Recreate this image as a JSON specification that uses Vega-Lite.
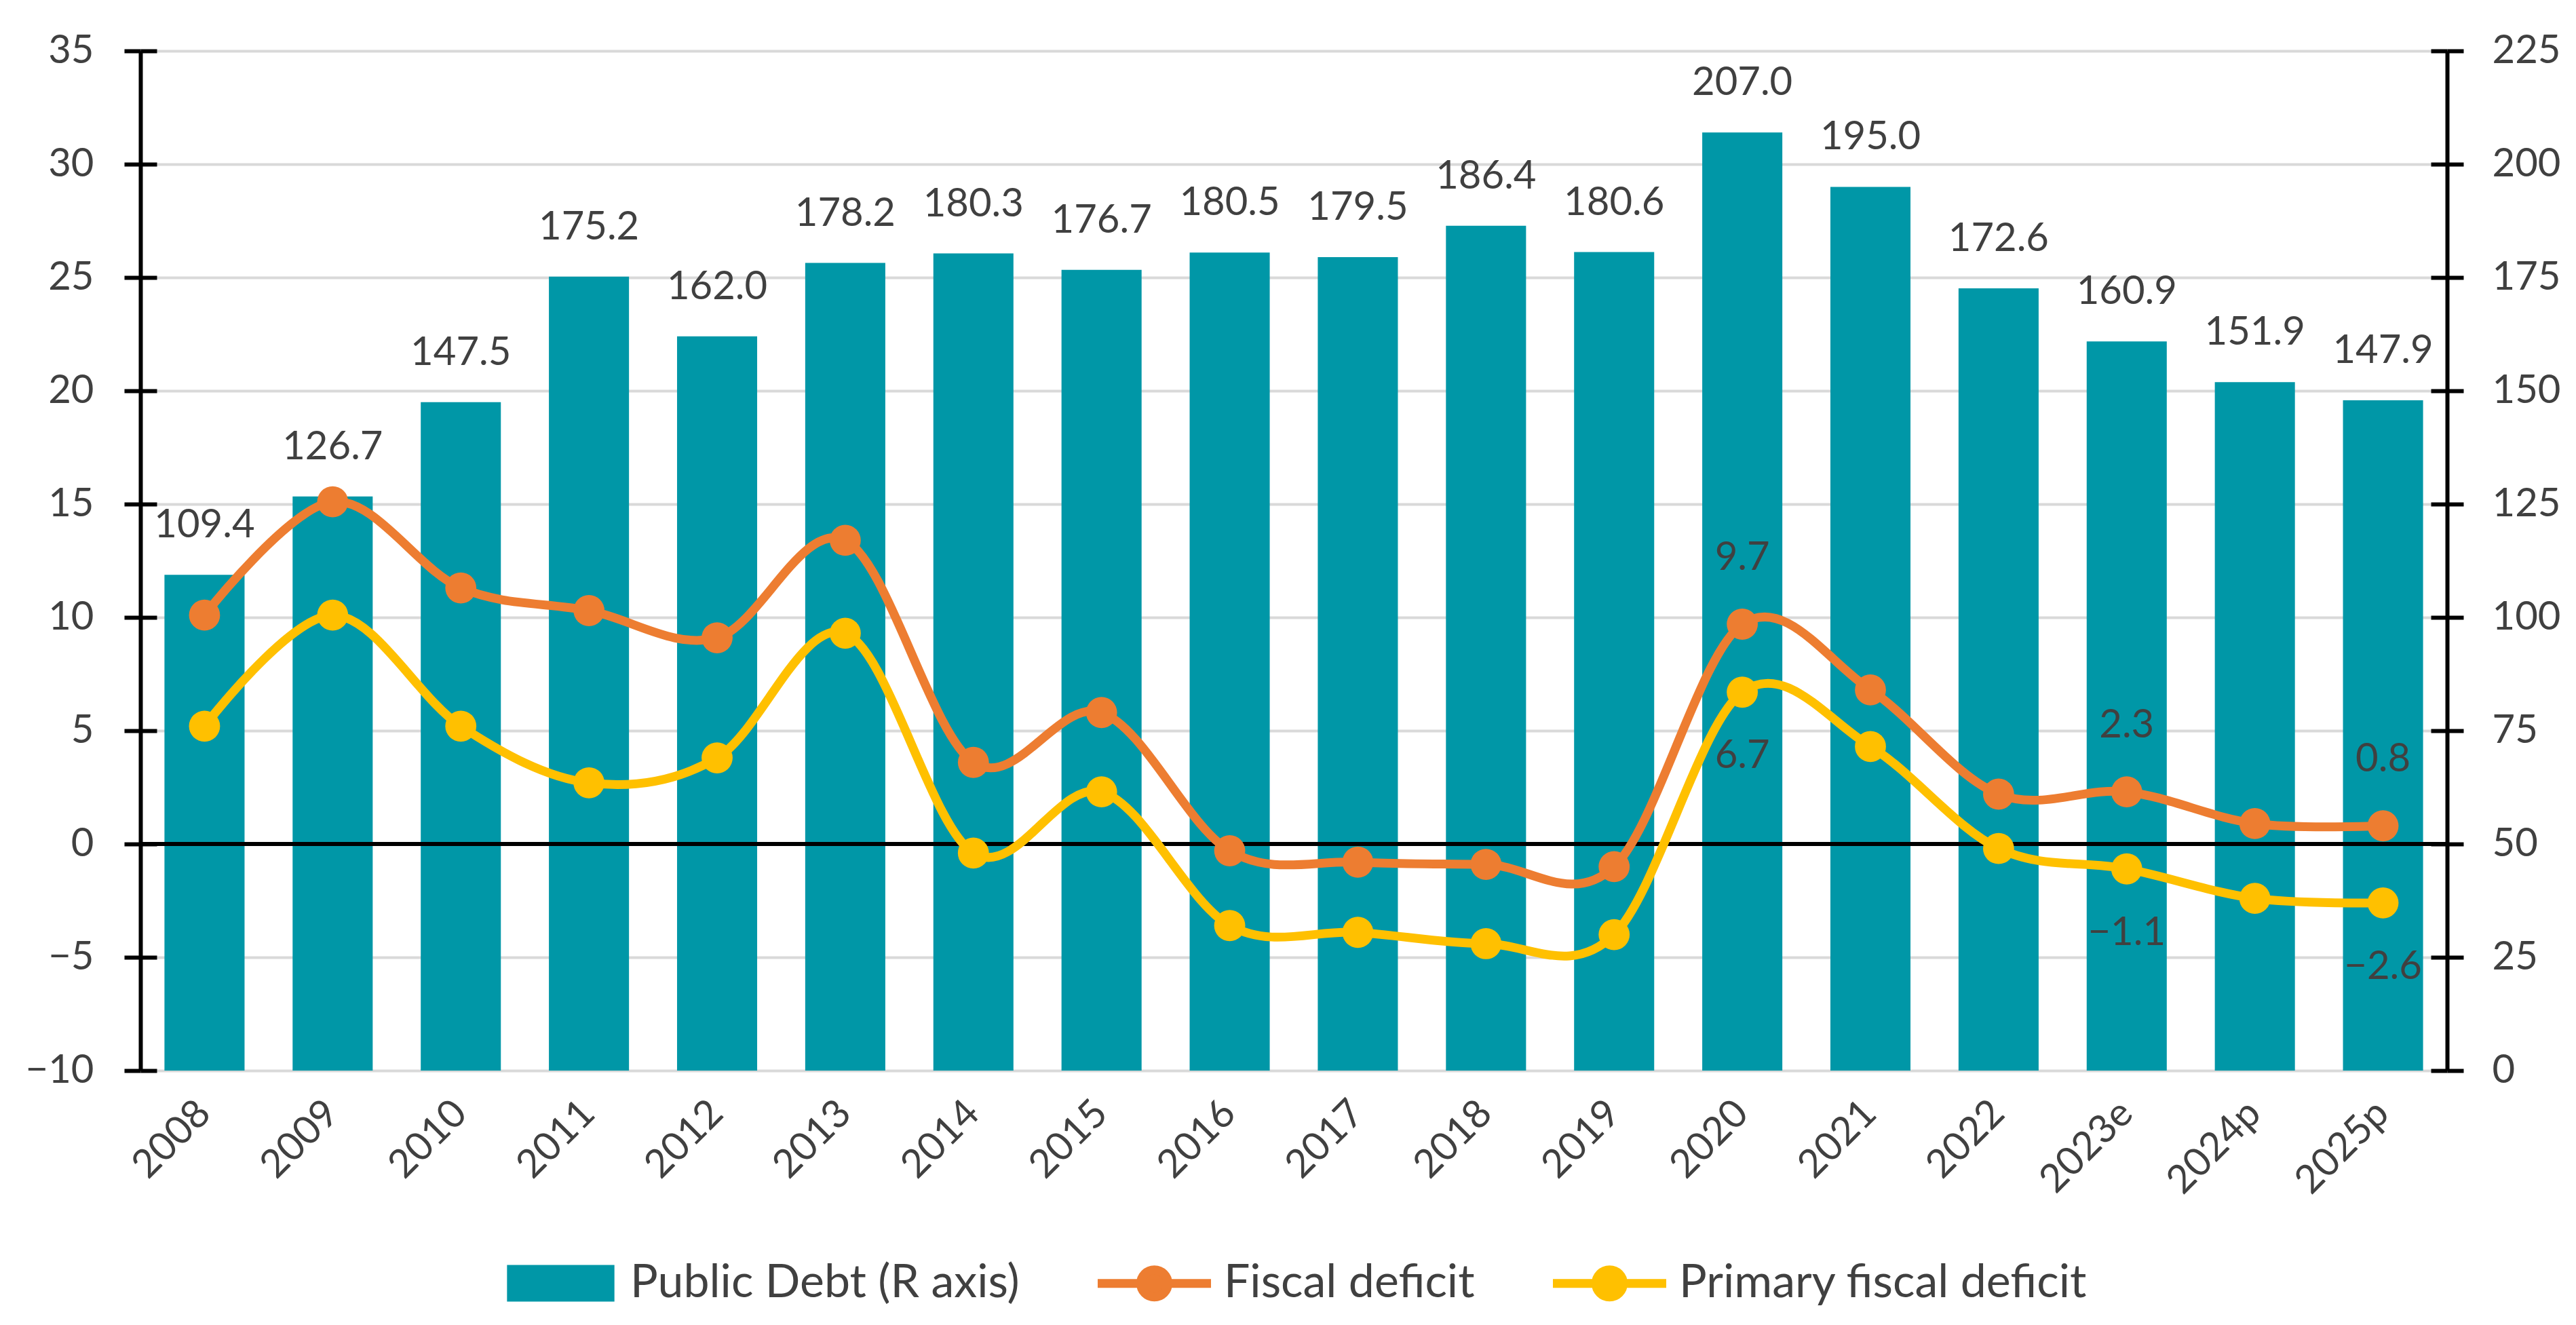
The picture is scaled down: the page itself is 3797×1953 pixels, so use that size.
{
  "$schema": "https://vega.github.io/schema/vega-lite/v6.json",
  "width": 3400,
  "height": 1503,
  "autosize": "none",
  "padding": {"left": 207, "top": 75, "right": 190, "bottom": 375},
  "background": "white",
  "data": {
    "values": [
      {"year": "2008", "debt": 109.4, "fiscal": 10.1, "primary": 5.2},
      {"year": "2009", "debt": 126.7, "fiscal": 15.1, "primary": 10.1},
      {"year": "2010", "debt": 147.5, "fiscal": 11.3, "primary": 5.2},
      {"year": "2011", "debt": 175.2, "fiscal": 10.3, "primary": 2.7},
      {"year": "2012", "debt": 162.0, "fiscal": 9.1, "primary": 3.8},
      {"year": "2013", "debt": 178.2, "fiscal": 13.4, "primary": 9.3},
      {"year": "2014", "debt": 180.3, "fiscal": 3.6, "primary": -0.4},
      {"year": "2015", "debt": 176.7, "fiscal": 5.8, "primary": 2.3},
      {"year": "2016", "debt": 180.5, "fiscal": -0.3, "primary": -3.6},
      {"year": "2017", "debt": 179.5, "fiscal": -0.8, "primary": -3.9},
      {"year": "2018", "debt": 186.4, "fiscal": -0.9, "primary": -4.4},
      {"year": "2019", "debt": 180.6, "fiscal": -1.0, "primary": -4.0},
      {"year": "2020", "debt": 207.0, "fiscal": 9.7, "primary": 6.7},
      {"year": "2021", "debt": 195.0, "fiscal": 6.8, "primary": 4.3},
      {"year": "2022", "debt": 172.6, "fiscal": 2.2, "primary": -0.2},
      {"year": "2023e", "debt": 160.9, "fiscal": 2.3, "primary": -1.1},
      {"year": "2024p", "debt": 151.9, "fiscal": 0.9, "primary": -2.4},
      {"year": "2025p", "debt": 147.9, "fiscal": 0.8, "primary": -2.6}
    ]
  },
  "layer": [
    {
      "layer": [
        {
          "mark": {"type": "bar", "color": "#0097A7"},
          "encoding": {
            "x": {
              "field": "year",
              "type": "ordinal",
              "scale": {
                "domain": ["2008", "2009", "2010", "2011", "2012", "2013", "2014", "2015", "2016", "2017", "2018", "2019", "2020", "2021", "2022", "2023e", "2024p", "2025p"],
                "paddingInner": 0.375,
                "paddingOuter": 0.1875
              },
              "axis": {
                "title": null,
                "domain": false,
                "ticks": false,
                "grid": false,
                "labelAngle": -45,
                "labelAlign": "right",
                "labelBaseline": "middle",
                "labelPadding": 54,
                "labelFont": "Lato",
                "labelFontSize": 58,
                "labelColor": "#404040"
              }
            },
            "y": {
              "field": "debt",
              "type": "quantitative",
              "scale": {"domain": [0, 225], "nice": false},
              "axis": {
                "orient": "right",
                "title": null,
                "values": [0, 25, 50, 75, 100, 125, 150, 175, 200, 225],
                "grid": false,
                "domain": true,
                "domainColor": "black",
                "domainWidth": 6,
                "ticks": true,
                "tickColor": "black",
                "tickWidth": 6,
                "tickSize": 24,
                "labelPadding": 42,
                "labelFont": "Lato",
                "labelFontSize": 58,
                "labelColor": "#404040"
              }
            },
            "color": {
              "datum": "Public Debt (R axis)",
              "scale": {
                "domain": ["Public Debt (R axis)", "Fiscal deficit", "Primary fiscal deficit"],
                "range": ["#0097A7", "#ED7D31", "#FFC000"]
              },
              "legend": {
                "title": null,
                "orient": "bottom",
                "direction": "horizontal",
                "offset": 30,
                "labelFont": "Lato",
                "labelFontSize": 68,
                "labelColor": "#404040",
                "labelLimit": 0,
                "labelOffset": 12,
                "columnPadding": 88,
                "symbolSize": 27900,
                "symbolStrokeWidth": 13,
                "encode": {
                  "symbols": {
                    "update": {
                      "shape": {"signal": "datum.value === 'Public Debt (R axis)' ? 'M-0.87,-0.245H0.87V0.245H-0.87Z' : 'M-1,0H1M0.24,0A0.24,0.24 0 1,1 -0.24,0A0.24,0.24 0 1,1 0.24,0Z'"},
                      "fill": {"scale": "color", "field": "value"},
                      "stroke": {"signal": "datum.value === 'Public Debt (R axis)' ? 'transparent' : scale('color', datum.value)"},
                      "strokeWidth": {"value": 13},
                      "opacity": {"value": 1}
                    }
                  }
                }
              }
            }
          }
        },
        {
          "mark": {"type": "text", "baseline": "alphabetic", "dy": -55, "font": "Lato", "fontSize": 58, "color": "#404040"},
          "encoding": {
            "x": {"field": "year", "type": "ordinal"},
            "y": {
              "field": "debt",
              "type": "quantitative",
              "axis": {
                "orient": "right",
                "title": null,
                "values": [0, 25, 50, 75, 100, 125, 150, 175, 200, 225],
                "grid": false,
                "domain": false,
                "labels": false,
                "ticks": true,
                "tickColor": "black",
                "tickWidth": 6,
                "tickSize": -24
              }
            },
            "text": {"field": "debt", "type": "quantitative", "format": ".1f"}
          }
        }
      ],
      "resolve": {"axis": {"y": "independent"}}
    },
    {
      "layer": [
        {
          "mark": {"type": "rule", "color": "black", "strokeWidth": 6},
          "encoding": {
            "y": {
              "datum": 0,
              "type": "quantitative",
              "scale": {"domain": [-10, 35], "nice": false},
              "axis": {
                "orient": "left",
                "title": null,
                "values": [-10, -5, 0, 5, 10, 15, 20, 25, 30, 35],
                "grid": true,
                "gridColor": "#D9D9D9",
                "gridWidth": 4,
                "domain": true,
                "domainColor": "black",
                "domainWidth": 6,
                "ticks": true,
                "tickColor": "black",
                "tickWidth": 6,
                "tickSize": 24,
                "labelPadding": 45,
                "labelFont": "Lato",
                "labelFontSize": 58,
                "labelColor": "#404040"
              }
            }
          }
        },
        {
          "mark": {"type": "line", "interpolate": "cardinal", "strokeWidth": 13, "point": {"filled": true, "size": 2100}},
          "encoding": {
            "x": {"field": "year", "type": "ordinal"},
            "y": {
              "field": "primary",
              "type": "quantitative",
              "axis": {
                "orient": "left",
                "title": null,
                "values": [-10, -5, 0, 5, 10, 15, 20, 25, 30, 35],
                "grid": false,
                "domain": false,
                "labels": false,
                "ticks": true,
                "tickColor": "black",
                "tickWidth": 6,
                "tickSize": -24
              }
            },
            "color": {"datum": "Primary fiscal deficit"}
          }
        },
        {
          "mark": {"type": "line", "interpolate": "cardinal", "strokeWidth": 13, "point": {"filled": true, "size": 2100}},
          "encoding": {
            "x": {"field": "year", "type": "ordinal"},
            "y": {"field": "fiscal", "type": "quantitative", "axis": null},
            "color": {"datum": "Fiscal deficit"}
          }
        },
        {
          "transform": [{"filter": "indexof(['2020', '2023e', '2025p'], datum.year) >= 0"}],
          "mark": {"type": "text", "baseline": "alphabetic", "dy": -80, "font": "Lato", "fontSize": 58, "color": "#404040"},
          "encoding": {
            "x": {"field": "year", "type": "ordinal"},
            "y": {"field": "fiscal", "type": "quantitative", "axis": null},
            "text": {"field": "fiscal", "type": "quantitative", "format": ".1f"}
          }
        },
        {
          "transform": [{"filter": "indexof(['2020', '2023e', '2025p'], datum.year) >= 0"}],
          "mark": {"type": "text", "baseline": "alphabetic", "dy": 112, "font": "Lato", "fontSize": 58, "color": "#404040"},
          "encoding": {
            "x": {"field": "year", "type": "ordinal"},
            "y": {"field": "primary", "type": "quantitative", "axis": null},
            "text": {"field": "primary", "type": "quantitative", "format": ".1f"}
          }
        }
      ],
      "resolve": {"axis": {"y": "independent"}}
    }
  ],
  "resolve": {"scale": {"y": "independent"}},
  "config": {
    "view": {"stroke": null},
    "font": "Lato",
    "legend": {
      "layout": {"anchor": "middle", "bottom": {"anchor": "middle", "direction": "horizontal"}}
    }
  }
}
